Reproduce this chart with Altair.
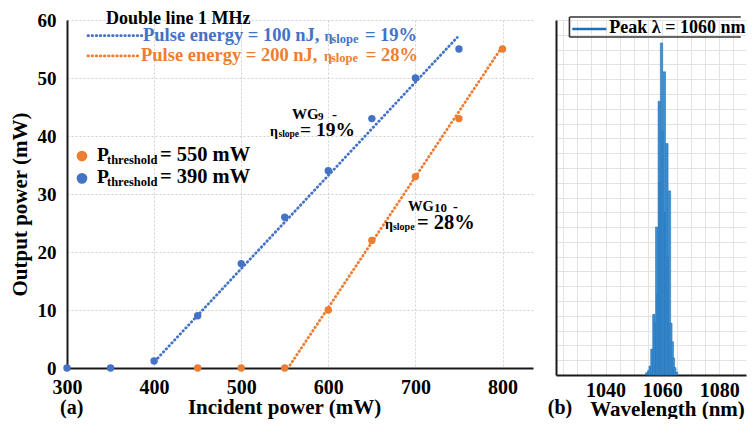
import altair as alt
import pandas as pd

FONT = "Liberation Serif"
BLUE = "#4472C4"
ORANGE = "#ED7D31"
SPEC = "#3f8fd2"

# ---------------- panel (a) data ----------------
blue_power = [300, 350, 400, 450, 500, 550, 600, 650, 700, 750]
blue_output = [0, 0, 1.2, 9, 18, 26, 34, 43, 50, 55]
orange_power = [450, 500, 550, 600, 650, 700, 750, 800]
orange_output = [0, 0, 0, 10, 22, 33, 43, 55]
blue_fit_power = [401, 748]
blue_fit_output = [1.2, 57]
orange_fit_power = [556, 800]
orange_fit_output = [0.5, 55.5]
x_ticks_a = [300, 400, 500, 600, 700, 800]
y_ticks_a = [0, 10, 20, 30, 40, 50, 60]

# ---------------- panel (b) data ----------------
wavelength = [1054.5, 1055.2, 1055.7, 1056.3, 1057.0, 1057.5, 1058.0, 1058.5, 1058.9, 1059.3,
              1059.7, 1060.2, 1060.7, 1061.2, 1061.6, 1062.1, 1062.5, 1063.0, 1063.5, 1063.9,
              1064.4, 1065.0]
intensity = [0.03, 0.06, 0.12, 0.35, 0.82, 0.70, 2.00, 1.10, 3.70, 2.60,
             4.49, 3.30, 4.10, 2.20, 3.13, 1.60, 2.49, 0.70, 0.45, 0.23,
             0.10, 0.04]
x_ticks_b = [1040, 1060, 1080]
x_grid_b = list(range(1025, 1090, 5))
y_grid_b = [round(i * 0.2, 1) for i in range(0, 25)]

# ---------------- annotation texts (data coordinates) ----------------
texts_a = [
    (344.8, 59.31, "Double line 1 MHz", 18, "black"),
    (387.2, 56.3, "Pulse energy = 100 nJ,", 18.5, BLUE),
    (595.5, 56.3, "η", 14, BLUE),
    (603.5, 56.1, "slope", 12.5, BLUE),
    (642.0, 56.3, "= 19%", 18.5, BLUE),
    (384.9, 52.9, "Pulse energy = 200 nJ,", 18.5, ORANGE),
    (595.0, 52.9, "η", 14, ORANGE),
    (603.0, 52.7, "slope", 12.5, ORANGE),
    (643.0, 52.9, "= 28%", 18.5, ORANGE),
    (334.4, 35.65, "P", 19.5, "black"),
    (345.9, 35.1, "threshold", 12.5, "black"),
    (406.7, 35.65, "= 550 mW", 20.5, "black"),
    (334.4, 31.9, "P", 19.5, "black"),
    (345.9, 31.4, "threshold", 12.5, "black"),
    (406.7, 31.9, "= 390 mW", 20.5, "black"),
    (558.3, 42.98, "WG", 15, "black"),
    (588.1, 42.8, "9", 11, "black"),
    (604.2, 42.98, "-", 15, "black"),
    (533.0, 39.95, "η", 14, "black"),
    (542.8, 39.8, "slope", 9.5, "black"),
    (567.4, 39.95, "= 19%", 19.5, "black"),
    (691.4, 27.02, "WG", 14.5, "black"),
    (721.3, 26.85, "10", 13, "black"),
    (743.1, 27.02, "-", 14.5, "black"),
    (665.0, 23.97, "η", 14, "black"),
    (674.2, 23.8, "slope", 10, "black"),
    (701.7, 23.97, "= 28%", 20.5, "black"),
    (292.0, -7.93, "(a)", 20, "black"),
]
legend_dots_a = [(317.2, 36.55, ORANGE), (317.2, 32.7, BLUE)]
legend_line_blue = ([324.1, 386.1], [57.3, 57.3])
legend_line_orange = ([324.1, 384.0], [53.8, 53.8])

texts_b = [
    (1041.33, 4.628, "Peak λ = 1060 nm", 18, "black"),
    (1019.67, -0.527, "(b)", 20, "black"),
]
legend_box_b = [  # x, x2, y, y2 of the frame edges
    (1027.3, 1087.6, 4.84, 4.84),
    (1027.3, 1087.6, 4.57, 4.57),
    (1027.3, 1027.3, 4.57, 4.84),
]
legend_line_b = ([1028.3, 1040.3], [4.678, 4.678])

# ---------------- panel (a) ----------------
xa_scale = alt.Scale(domain=[300, 835], nice=False, zero=False)
ya_scale = alt.Scale(domain=[0, 60], nice=False)

xa_axis = alt.Axis(values=x_ticks_a, title="Incident power (mW)", grid=True, gridDash=[2, 2],
                   gridColor="#d0d0d0", ticks=False, domainColor="#1a1a1a", domainWidth=2,
                   labelFont=FONT, labelFontSize=20, labelFontWeight="bold", labelColor="black",
                   labelPadding=9, labelFlush=False, titleFont=FONT, titleFontSize=21,
                   titleFontWeight="bold", titleColor="black", titleX=217, titleY=39,
                   titleBaseline="middle", titleAlign="center")
ya_axis = alt.Axis(values=y_ticks_a, title="Output power (mW)", grid=True, gridDash=[2, 2],
                   gridColor="#d0d0d0", ticks=False, domainColor="#1a1a1a", domainWidth=2,
                   labelFont=FONT, labelFontSize=19, labelFontWeight="bold", labelColor="black",
                   labelPadding=11, labelFlush=False, titleFont=FONT, titleFontSize=21,
                   titleFontWeight="bold", titleColor="black", titleX=-47, titleY=184,
                   titleBaseline="middle", titleAlign="center")

def X(field="x"):
    return alt.X(f"{field}:Q", scale=xa_scale, axis=xa_axis)

def Y(field="y"):
    return alt.Y(f"{field}:Q", scale=ya_scale, axis=ya_axis)

def line_df(xs, ys):
    return pd.DataFrame({"x": xs, "y": ys})

dot_style = dict(strokeDash=[0.5, 3.6], strokeCap="round", strokeWidth=2.8)

fit_blue = alt.Chart(line_df(blue_fit_power, blue_fit_output)).mark_line(color=BLUE, **dot_style).encode(x=X(), y=Y())
fit_orange = alt.Chart(line_df(orange_fit_power, orange_fit_output)).mark_line(color=ORANGE, **dot_style).encode(x=X(), y=Y())
leg_blue = alt.Chart(line_df(*legend_line_blue)).mark_line(color=BLUE, **dot_style).encode(x=X(), y=Y())
leg_orange = alt.Chart(line_df(*legend_line_orange)).mark_line(color=ORANGE, **dot_style).encode(x=X(), y=Y())

pts_blue = alt.Chart(line_df(blue_power, blue_output)).mark_circle(size=55, opacity=1, color=BLUE).encode(x=X(), y=Y())
pts_orange = alt.Chart(line_df(orange_power, orange_output)).mark_circle(size=55, opacity=1, color=ORANGE).encode(x=X(), y=Y())

dots_df = pd.DataFrame(legend_dots_a, columns=["x", "y", "c"])
leg_dots = alt.Chart(dots_df).mark_circle(size=115, opacity=1).encode(
    x=X(), y=Y(), color=alt.Color("c:N", scale=None))

ta_df = pd.DataFrame(texts_a, columns=["x", "y", "t", "s", "c"])
text_a = alt.Chart(ta_df).mark_text(align="left", baseline="alphabetic", font=FONT, fontWeight="bold").encode(
    x=X(), y=Y(), text="t:N", size=alt.Size("s:Q", scale=None), color=alt.Color("c:N", scale=None))

left = alt.layer(fit_blue, fit_orange, leg_blue, leg_orange, pts_blue, pts_orange, leg_dots, text_a).properties(
    width=466, height=348)

# ---------------- panel (b) ----------------
xb_scale = alt.Scale(domain=[1024.33, 1087.67], nice=False, zero=False)
yb_scale = alt.Scale(domain=[0, 4.8], nice=False)
xb_axis = alt.Axis(values=x_grid_b, labelExpr="datum.value % 20 == 0 ? format(datum.value, 'd') : ''",
                   title="Wavelength (nm)", grid=True, gridColor="#e3e3e3", ticks=False,
                   domainColor="#1a1a1a", domainWidth=2, labelFont=FONT, labelFontSize=20,
                   labelFontWeight="bold", labelColor="black", labelPadding=5, labelOverlap=False,
                   labelFlush=False, titleFont=FONT, titleFontSize=21, titleFontWeight="bold",
                   titleColor="black", titleX=111, titleY=34, titleBaseline="middle", titleAlign="center")
yb_axis = alt.Axis(values=y_grid_b, labels=False, ticks=False, title=None, grid=True,
                   gridColor="#e3e3e3", domainColor="#1a1a1a", domainWidth=2)

def XB(field="x"):
    return alt.X(f"{field}:Q", scale=xb_scale, axis=xb_axis)

def YB(field="y"):
    return alt.Y(f"{field}:Q", scale=yb_scale, axis=yb_axis)

spec_df = pd.DataFrame({"x": wavelength, "y": intensity})
bars = alt.Chart(spec_df).mark_bar(size=2.4, color=SPEC, stroke="#1b6db3", strokeWidth=0.5).encode(
    x=XB(), y=YB())

box_df = pd.DataFrame(legend_box_b, columns=["x", "x2", "y", "y2"])
box = alt.Chart(box_df).mark_rule(color="#333333", strokeWidth=1.6).encode(
    x=XB(), x2="x2:Q", y=YB(), y2="y2:Q")
leg_b = alt.Chart(line_df(*legend_line_b)).mark_line(color="#1f6fb8", strokeWidth=2.5).encode(x=XB(), y=YB())

tb_df = pd.DataFrame(texts_b, columns=["x", "y", "t", "s", "c"])
text_b = alt.Chart(tb_df).mark_text(align="left", baseline="alphabetic", font=FONT, fontWeight="bold").encode(
    x=XB(), y=YB(), text="t:N", size=alt.Size("s:Q", scale=None), color=alt.Color("c:N", scale=None))

right = alt.layer(bars, box, leg_b, text_b).properties(width=190, height=355)

chart = alt.hconcat(left, right, spacing=23, bounds="flush").properties(
    autosize=alt.AutoSizeParams(type="none"),
    padding={"left": 59, "top": 12, "right": 680, "bottom": 399},
).configure_view(stroke=None)

chart.save("out.html", embed_options={"renderer": "svg", "actions": False})
